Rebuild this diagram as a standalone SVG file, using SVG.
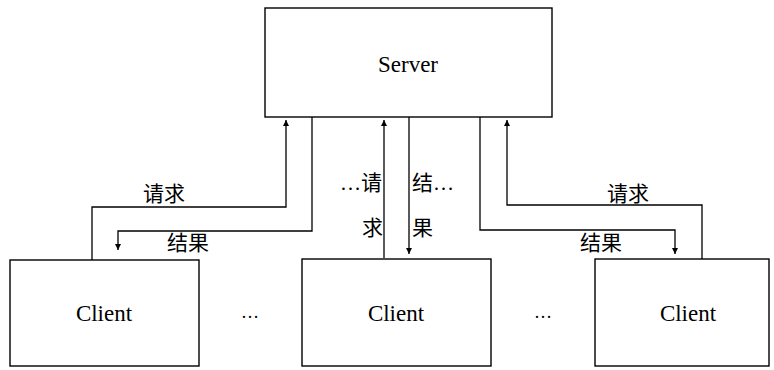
<svg xmlns="http://www.w3.org/2000/svg" width="774" height="370" viewBox="0 0 774 370">
  <style>
    .box { fill: none; stroke: #000; stroke-width: 1.4; }
    .wire { fill: none; stroke: #000; stroke-width: 1.3; }
    .name { font-family: "Liberation Serif", "DejaVu Serif", serif; font-size: 23px; fill: #000; text-anchor: middle; }
    .dots { font-family: "Liberation Serif", serif; font-size: 18px; fill: #000; text-anchor: middle; }
    .lbl { font-family: "Liberation Serif", "Noto Sans CJK SC", sans-serif; font-size: 21px; fill: #000; }
  </style>
  <defs>
    <marker id="arrow" viewBox="0 0 10 10" refX="10" refY="5" markerWidth="7" markerHeight="6" markerUnits="userSpaceOnUse" orient="auto">
      <path d="M0,0 L10,5 L0,10 Z" fill="#000"/>
    </marker>
  </defs>
  <rect width="774" height="370" fill="#fff"/>

  <g id="server">
    <rect class="box" x="265" y="8" width="287" height="109"/>
    <text class="name" x="408" y="72">Server</text>
  </g>

  <g id="client-left">
    <rect class="box" x="10" y="260" width="189" height="106"/>
    <text class="name" x="104" y="321">Client</text>
  </g>

  <g id="client-middle">
    <rect class="box" x="302" y="259" width="189" height="107"/>
    <text class="name" x="396" y="321">Client</text>
  </g>

  <g id="client-right">
    <rect class="box" x="595" y="259" width="174" height="107"/>
    <text class="name" x="688" y="321">Client</text>
  </g>

  <g id="ellipses" class="dots">
    <text x="250" y="318">…</text>
    <text x="543" y="318">…</text>
  </g>

  <g id="connectors">
    <!-- left client: request up, result down -->
    <path class="wire" d="M92,260 V207 H286 V120" marker-end="url(#arrow)"/>
    <path class="wire" d="M312,117 V231 H118 V250" marker-end="url(#arrow)"/>
    <!-- middle client -->
    <path class="wire" d="M384,258 V120" marker-end="url(#arrow)"/>
    <path class="wire" d="M409,117 V254" marker-end="url(#arrow)"/>
    <!-- right client -->
    <path class="wire" d="M702,259 V205 H507 V120" marker-end="url(#arrow)"/>
    <path class="wire" d="M480,117 V230 H675 V254" marker-end="url(#arrow)"/>
  </g>

  <g id="labels" class="lbl">
    <text x="143" y="201">请求</text>
    <text x="167" y="250">结果</text>
    <text x="340" y="190">…请</text>
    <text x="362" y="235">求</text>
    <text x="412" y="190">结…</text>
    <text x="412" y="235">果</text>
    <text x="607" y="201">请求</text>
    <text x="580" y="250">结果</text>
  </g>
</svg>
